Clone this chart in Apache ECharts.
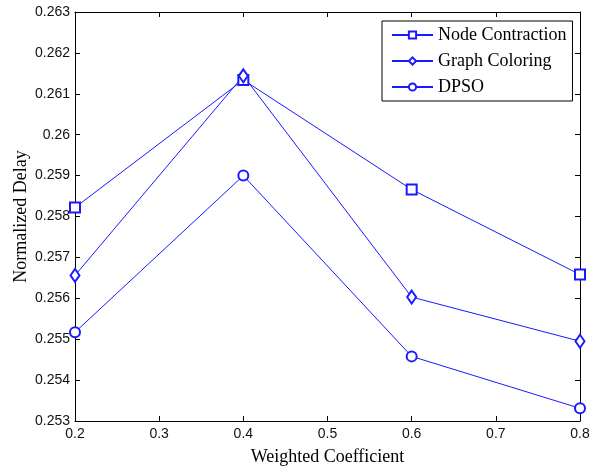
<!DOCTYPE html>
<html>
<head>
<meta charset="utf-8">
<script src="https://cdn.jsdelivr.net/npm/echarts@6/dist/echarts.min.js"></script>
<style>
    html,body{margin:0;padding:0;background:#fff;}
    #chart-div{width:599px;height:472px;}
</style>
</head>
<body>
<div id="chart-div"></div>
<script>
var x_data=[0.2,0.4,0.6,0.8];
var node_contraction=[0.25822,0.26134,0.25866,0.25658];
var graph_coloring=[0.25656,0.26144,0.25603,0.25495];
var dpso=[0.25517,0.25900,0.25458,0.25331];
var series_names=['Node Contraction','Graph Coloring','DPSO'];

function pairs(ys){                                                     //组合成点
    var out=[];
    for(var i=0;i<x_data.length;i++){
        out.push([x_data[i],ys[i]]);
    }
    return out;
}

function trimNum(v){
    return String(parseFloat(v.toFixed(3)));
}

var axisLine={show:true,lineStyle:{color:'#000',width:1}};
var axisTick={show:true,inside:true,length:5,lineStyle:{color:'#000'}};
var blue='#1a1aff';

function makeSeries(name,data,symbol,size){
    return {
        name:name,
        type:'line',
        data:pairs(data),
        symbol:symbol,
        symbolSize:size,
        showAllSymbol:true,
        itemStyle:{color:blue,borderColor:blue,borderWidth:0.8},
        lineStyle:{color:blue,width:1},
        emphasis:{disabled:true},
        animation:false
    };
}

var myChart=echarts.init(document.getElementById('chart-div'));
var option={
    animation:false,
    backgroundColor:'#fff',
    grid:{left:75,right:19,top:12,bottom:51,containLabel:false,outerBoundsMode:'none'},
    legend:{
        orient:'vertical',
        left:382,
        top:21,
        padding:[4,6,4,9],
        itemGap:6,
        itemWidth:41,
        itemHeight:9,
        borderColor:'#000',
        borderWidth:1,
        backgroundColor:'#fff',
        textStyle:{fontFamily:'Liberation Serif',fontSize:18,color:'#000',lineHeight:20},
        data:series_names
    },
    xAxis:[
        {
            type:'value',
            min:0.2,
            max:0.8,
            interval:0.1,
            name:'Weighted Coefficient',
            nameLocation:'middle',
            nameGap:27,
            nameMoveOverlap:false,
            nameTextStyle:{fontFamily:'Liberation Serif',fontSize:18,color:'#000'},
            axisLine:axisLine,
            axisTick:axisTick,
            axisLabel:{fontFamily:'Liberation Sans',fontSize:14,color:'#111',margin:6,formatter:trimNum},
            splitLine:{show:false}
        },
        {
            type:'value',
            position:'top',
            min:0.2,
            max:0.8,
            interval:0.1,
            axisLine:axisLine,
            axisTick:axisTick,
            axisLabel:{show:false},
            splitLine:{show:false}
        }
    ],
    yAxis:[
        {
            type:'value',
            min:0.253,
            max:0.263,
            interval:0.001,
            name:'Normalized Delay',
            nameLocation:'middle',
            nameGap:45,
            nameMoveOverlap:false,
            nameTextStyle:{fontFamily:'Liberation Serif',fontSize:18,color:'#000'},
            axisLine:axisLine,
            axisTick:axisTick,
            axisLabel:{fontFamily:'Liberation Sans',fontSize:14,color:'#111',margin:5,formatter:trimNum},
            splitLine:{show:false}
        },
        {
            type:'value',
            position:'right',
            min:0.253,
            max:0.263,
            interval:0.001,
            axisLine:axisLine,
            axisTick:axisTick,
            axisLabel:{show:false},
            splitLine:{show:false}
        }
    ],
    series:[
        makeSeries(series_names[0],node_contraction,'emptyRect',10),
        makeSeries(series_names[1],graph_coloring,'emptyDiamond',[9,13]),
        makeSeries(series_names[2],dpso,'emptyCircle',10)
    ]
};
myChart.setOption(option);
</script>
</body>
</html>
